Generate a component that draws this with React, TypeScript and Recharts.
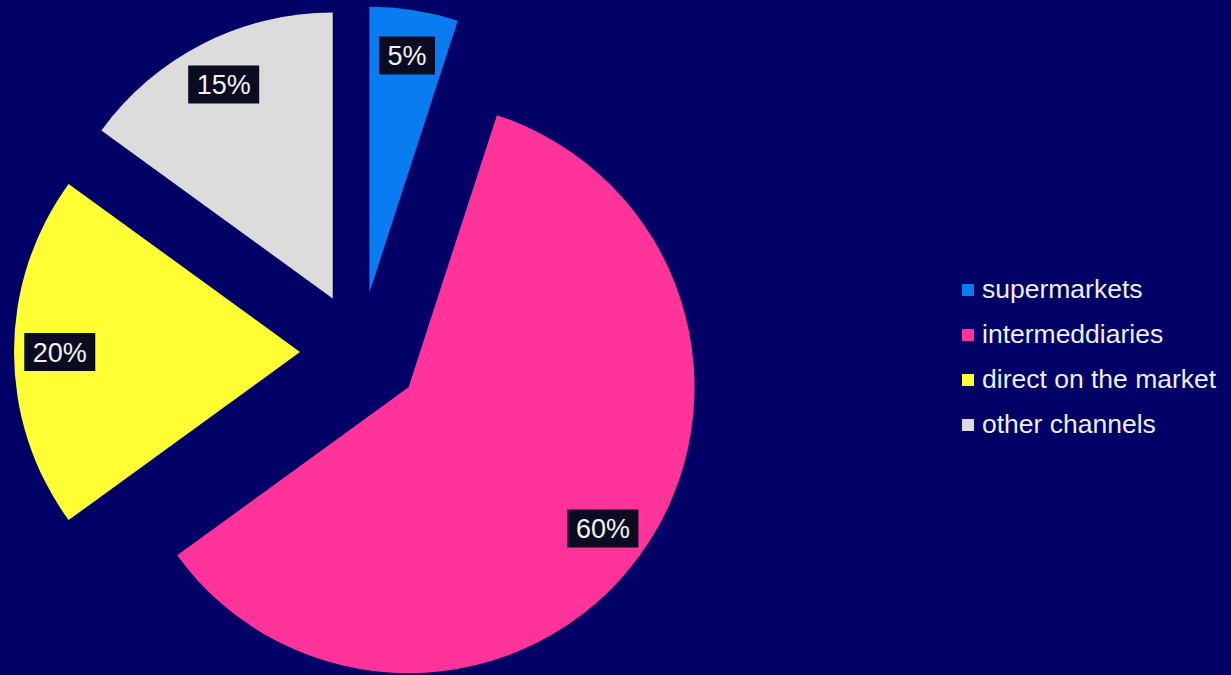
import { PieChart, Pie, Cell, Legend, Sector } from 'recharts';

const channels = ['supermarkets', 'intermeddiaries', 'direct on the market', 'other channels'];
const shares = [5, 60, 20, 15];
const colors = ['#0A7CF2', '#FF3399', '#FFFF33', '#DCDCDC'];

const data = channels.map((name, i) => ({ name, value: shares[i] }));

const RADIAN = Math.PI / 180;
const EXPLODE = 60;

const ExplodedSlice = (props: any) => {
  const { cx, cy, midAngle, innerRadius, outerRadius, startAngle, endAngle, fill } = props;
  const dx = EXPLODE * Math.cos(-midAngle * RADIAN);
  const dy = EXPLODE * Math.sin(-midAngle * RADIAN);
  return (
    <Sector
      cx={cx + dx}
      cy={cy + dy}
      innerRadius={innerRadius}
      outerRadius={outerRadius}
      startAngle={startAngle}
      endAngle={endAngle}
      fill={fill}
      stroke="none"
    />
  );
};

const renderLabel = (props: any) => {
  const { cx, cy, midAngle, outerRadius, value } = props;
  const r = EXPLODE + outerRadius * 0.84;
  const x = cx + r * Math.cos(-midAngle * RADIAN);
  const y = cy + r * Math.sin(-midAngle * RADIAN);
  const text = `${value}%`;
  const w = text.length > 2 ? 71 : 56;
  return (
    <g>
      <rect x={x - w / 2} y={y - 19} width={w} height={38} fill="#0B0B22" />
      <text
        x={x}
        y={y + 1}
        fill="#F2F2F2"
        fontSize={27}
        fontFamily="Liberation Sans, Arial, sans-serif"
        textAnchor="middle"
        dominantBaseline="central"
      >
        {text}
      </text>
    </g>
  );
};

const LegendContent = () => (
  <div style={{ fontFamily: 'Liberation Sans, Arial, sans-serif' }}>
    {channels.map((name, i) => (
      <div key={name} style={{ display: 'flex', alignItems: 'center', height: 45 }}>
        <span style={{ width: 12, height: 12, background: colors[i], marginRight: 8, display: 'inline-block' }} />
        <span style={{ color: '#EEEEEE', fontSize: 26.5, whiteSpace: 'nowrap' }}>{name}</span>
      </div>
    ))}
  </div>
);

export default function App() {
  return (
    <div style={{ position: 'fixed', left: 0, top: 0, width: 1231, height: 675, background: '#000066' }}>
      <PieChart width={1231} height={675} margin={{ top: 0, right: 0, bottom: 0, left: 0 }}>
        <Pie
          data={data}
          dataKey="value"
          nameKey="name"
          cx={360}
          cy={352}
          outerRadius={286}
          startAngle={90}
          endAngle={-270}
          stroke="none"
          shape={ExplodedSlice}
          label={renderLabel}
          labelLine={false}
          isAnimationActive={false}
        >
          {data.map((d, i) => (
            <Cell key={d.name} fill={colors[i]} />
          ))}
        </Pie>
        <Legend
          content={<LegendContent />}
          wrapperStyle={{ left: 962, top: 267, width: 269, bottom: 'auto', right: 'auto' }}
        />
      </PieChart>
    </div>
  );
}
